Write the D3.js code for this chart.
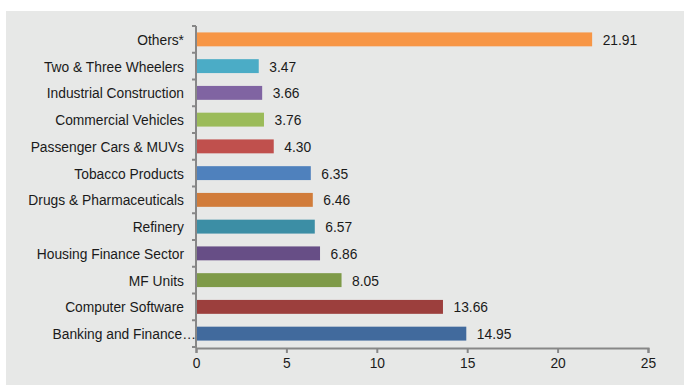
<!DOCTYPE html>
<html>
<head>
<meta charset="utf-8">
<script src="https://cdn.jsdelivr.net/npm/d3@7"></script>
<style>
  body { margin: 0; background: #fff; }
  text { font-family: "Liberation Sans", Arial, sans-serif; fill: #1a1a1a; }
</style>
</head>
<body>
<div id="chart"></div>
<script>
// data, top to bottom as drawn
var sectors = ["Others*", "Two & Three Wheelers", "Industrial Construction", "Commercial Vehicles",
    "Passenger Cars & MUVs", "Tobacco Products", "Drugs & Pharmaceuticals", "Refinery",
    "Housing Finance Sector", "MF Units", "Computer Software", "Banking and Finance\u2026"];
var shares = [21.91, 3.47, 3.66, 3.76, 4.30, 6.35, 6.46, 6.57, 6.86, 8.05, 13.66, 14.95];
var barColors = ["#f79646", "#4bacc6", "#8064a2", "#9bbb59", "#c0504d", "#4f81bd",
    "#d17c3a", "#3c8ea5", "#674e86", "#7e9a48", "#9c3f3d", "#416a9d"];
var xTicks = [0, 5, 10, 15, 20, 25];

var W = 684, H = 385;
var margin = { top: 26, right: 36, bottom: 38, left: 196 };
var fontSize = "13.8px";

var svg = d3.select("#chart")
    .append("svg")
    .attr("width", W)
    .attr("height", H);

// grey plot background
svg.append("rect")
    .attr("x", 6).attr("y", 11)
    .attr("width", W - 6).attr("height", H - 11)
    .attr("fill", "#e7e8e7");

var x = d3.scaleLinear()
    .domain([0, 25])
    .range([margin.left, W - margin.right]);

var y = d3.scaleBand()
    .domain(sectors)
    .range([margin.top, H - margin.bottom])
    .paddingInner(0.48)
    .paddingOuter(0.24);

// bars
svg.append("g")
    .selectAll("rect")
    .data(sectors)
    .enter()
    .append("rect")
    .attr("x", x(0))
    .attr("y", function(d) { return y(d); })
    .attr("width", function(d, i) { return x(shares[i]) - x(0); })
    .attr("height", y.bandwidth())
    .attr("fill", function(d, i) { return barColors[i]; });

// value labels
svg.append("g")
    .selectAll("text")
    .data(sectors)
    .enter()
    .append("text")
    .attr("x", function(d, i) { return x(shares[i]) + 10.5; })
    .attr("y", function(d) { return y(d) + y.bandwidth() / 2; })
    .attr("dy", "0.4em")
    .style("font-size", fontSize)
    .text(function(d, i) { return shares[i].toFixed(2); });

// x axis
var xAxis = svg.append("g")
    .attr("transform", "translate(0," + (H - margin.bottom + 1) + ")")
    .call(d3.axisBottom(x).tickValues(xTicks).tickSize(5).tickSizeOuter(5).tickPadding(5));

// y axis, ticks at band boundaries
var step = y.step();
var yAxis = svg.append("g")
    .attr("transform", "translate(" + margin.left + ",0)");
yAxis.append("line")
    .attr("x1", 0).attr("x2", 0)
    .attr("y1", margin.top).attr("y2", H - margin.bottom + 1);
yAxis.selectAll("line.tk")
    .data(d3.range(sectors.length + 1))
    .enter()
    .append("line")
    .attr("class", "tk")
    .attr("x1", -4).attr("x2", 0)
    .attr("y1", function(i) { return margin.top + i * step; })
    .attr("y2", function(i) { return margin.top + i * step; });
yAxis.selectAll("text")
    .data(sectors)
    .enter()
    .append("text")
    // truncated label runs onto the axis like in the original
    .attr("x", function(d) { return d.slice(-1) == "\u2026" ? 0 : -12; })
    .attr("y", function(d) { return y(d) + y.bandwidth() / 2; })
    .attr("dy", "0.4em")
    .attr("text-anchor", "end")
    .style("font-size", fontSize)
    .text(function(d) { return d; });

svg.selectAll("line").attr("stroke", "#878787").attr("stroke-width", 2);
xAxis.select(".domain").attr("stroke", "#878787").attr("stroke-width", 2);
xAxis.selectAll(".tick text")
    .style("font-size", fontSize)
    .attr("fill", "#1a1a1a")
    .style("font-family", "Liberation Sans, Arial, sans-serif");
</script>
</body>
</html>
